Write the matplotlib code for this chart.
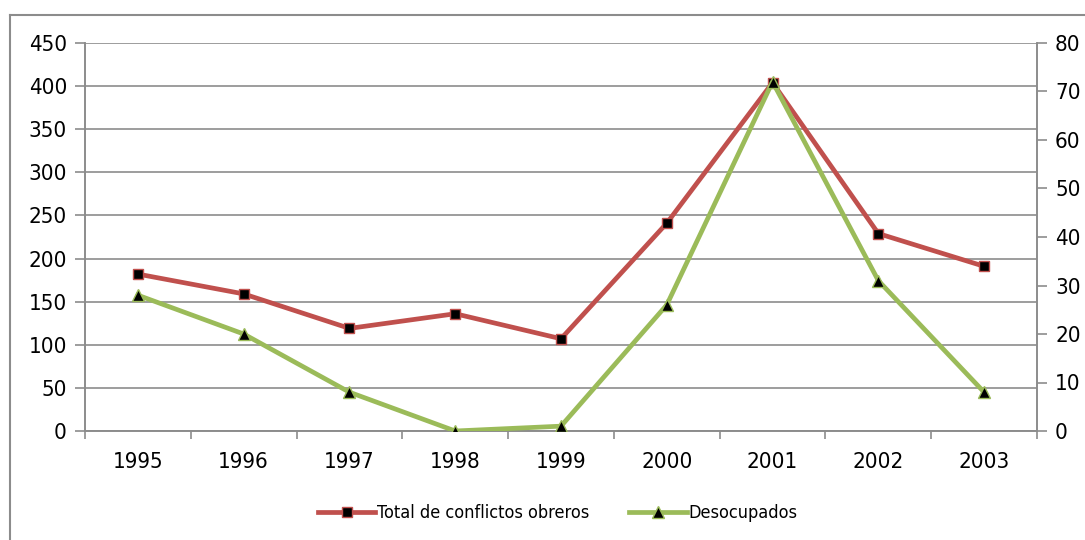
import matplotlib
matplotlib.use('Agg')
from matplotlib import pyplot as plt
from matplotlib.lines import Line2D

years = ['1995', '1996', '1997', '1998', '1999', '2000', '2001', '2002', '2003']
conflictos = [182, 159, 119, 136, 107, 241, 404, 229, 191]
desocupados = [28, 20, 8, 0, 1, 26, 72, 31, 8]
left_ticks = list(range(0, 451, 50))
right_ticks = list(range(0, 81, 10))

RED = '#C0504D'
GREEN = '#9BBB59'
GRAY = '#8C8C8C'

plt.rcParams['font.family'] = ['DejaVu Sans']
plt.rcParams['font.stretch'] = 'condensed'

fig = plt.figure(figsize=(10.85, 5.4), dpi=100)
ax = fig.add_axes([85/1085, 1-431/540, (1037-85)/1085, (431-43)/540])
ax2 = ax.twinx()

x = list(range(len(years)))

ax.set_ylim(0, 450)
ax.set_yticks(left_ticks)
ax2.set_ylim(0, 80)
ax2.set_yticks(right_ticks)
ax.set_xlim(-0.5, len(years) - 0.5)

# category boundary ticks, labels in the middle
ax.set_xticks([i - 0.5 for i in range(len(years) + 1)])
ax.set_xticklabels([])
ax.set_xticks(x, minor=True)
ax.set_xticklabels(years, minor=True)
ax.tick_params(axis='x', which='minor', length=0, pad=15, labelsize=16)
ax.tick_params(axis='x', which='major', length=6, color=GRAY, width=1.2)
ax.tick_params(axis='y', length=7, color=GRAY, width=1.2, labelsize=16, pad=6)
ax2.tick_params(axis='y', length=7, color=GRAY, width=1.2, labelsize=16, pad=6)

ax.grid(axis='y', color=GRAY, linewidth=1.2)
ax.set_axisbelow(True)
for a in (ax, ax2):
    a.spines['top'].set_visible(False)
    for s in ('left', 'right', 'bottom'):
        a.spines[s].set_color(GRAY)
        a.spines[s].set_linewidth(1.2)

l1, = ax.plot(x, conflictos, color=RED, linewidth=3.4, marker='s', markersize=7,
              markerfacecolor='black', markeredgecolor=RED, markeredgewidth=1,
              label='Total de conflictos obreros', zorder=3)
l2, = ax2.plot(x, desocupados, color=GREEN, linewidth=3.4, marker='^', markersize=9,
               markerfacecolor='black', markeredgecolor=GREEN, markeredgewidth=1,
               label='Desocupados', zorder=4)

fig.legend(handles=[l1, l2], loc='center', bbox_to_anchor=(0.514, 1-513/540), ncol=2,
           frameon=False, fontsize=13, handlelength=3.2, handletextpad=0.1,
           columnspacing=2.2)

# outer chart frame
fig.add_artist(Line2D([10/1085, 10/1085], [0, 1-15/540], color=GRAY, linewidth=1.5))
fig.add_artist(Line2D([10/1085, 1], [1-15/540, 1-15/540], color=GRAY, linewidth=1.5))

fig.savefig('out.png', dpi=100)
